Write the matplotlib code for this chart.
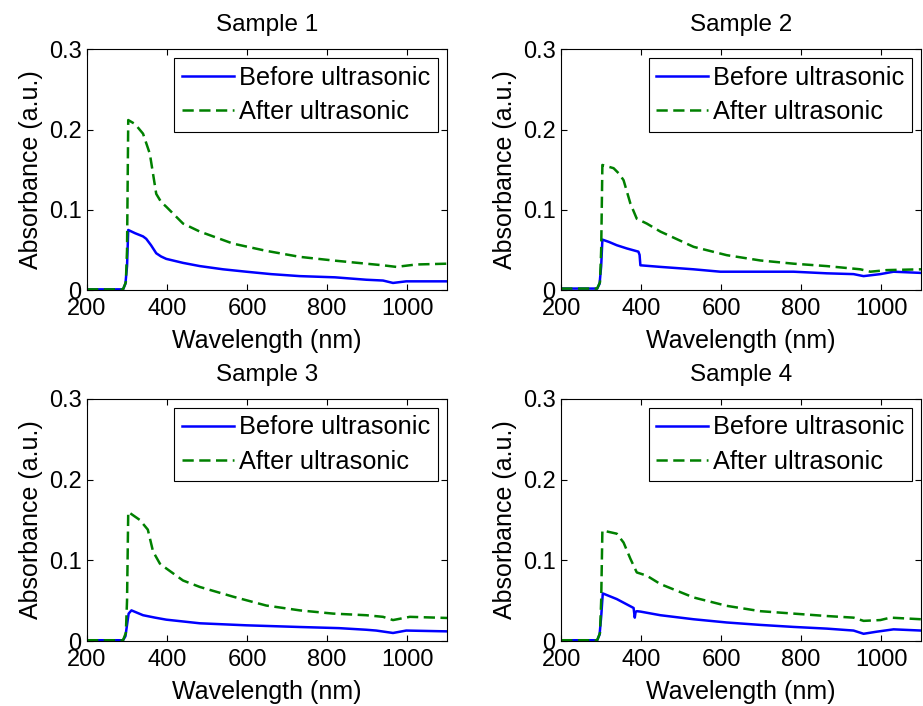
import matplotlib
matplotlib.use('Agg')
import matplotlib.pyplot as plt

plt.rcParams['font.family'] = ['Liberation Sans', 'DejaVu Sans']
plt.rcParams['font.size'] = 17

# Wavelength (nm) / absorbance pairs, per sample
wl_before_1 = [200, 290, 296, 300, 303, 320, 340, 348, 360, 373, 385, 398, 440, 482, 540, 598, 660, 732, 820, 898, 940, 965, 998, 1100]
ab_before_1 = [0.001, 0.001, 0.008, 0.03, 0.075, 0.071, 0.067, 0.064, 0.056, 0.046, 0.042, 0.039, 0.034, 0.030, 0.026, 0.023, 0.020, 0.0175, 0.016, 0.013, 0.012, 0.009, 0.011, 0.011]
wl_after_1 = [200, 290, 297, 300, 303, 320, 340, 357, 365, 373, 385, 398, 440, 482, 565, 648, 732, 815, 898, 940, 973, 1023, 1100]
ab_after_1 = [0.001, 0.001, 0.01, 0.05, 0.212, 0.207, 0.195, 0.170, 0.145, 0.120, 0.110, 0.104, 0.083, 0.073, 0.058, 0.049, 0.0415, 0.037, 0.033, 0.031, 0.029, 0.032, 0.033]

wl_before_2 = [200, 290, 296, 300, 303, 320, 339, 364, 393, 396, 398, 448, 531, 598, 700, 781, 864, 931, 956, 998, 1031, 1100]
ab_before_2 = [0.002, 0.002, 0.008, 0.03, 0.063, 0.060, 0.056, 0.052, 0.048, 0.044, 0.031, 0.029, 0.026, 0.023, 0.023, 0.023, 0.021, 0.020, 0.0175, 0.020, 0.023, 0.0215]
wl_after_2 = [200, 290, 297, 300, 303, 331, 345, 356, 373, 389, 414, 448, 531, 614, 698, 781, 864, 948, 973, 1014, 1100]
ab_after_2 = [0.002, 0.002, 0.01, 0.05, 0.156, 0.152, 0.145, 0.137, 0.108, 0.089, 0.083, 0.073, 0.054, 0.0436, 0.037, 0.033, 0.030, 0.026, 0.023, 0.025, 0.026]

wl_before_3 = [200, 290, 296, 300, 304, 311, 340, 370, 398, 482, 598, 732, 830, 898, 923, 965, 998, 1100]
ab_before_3 = [0.001, 0.001, 0.006, 0.02, 0.034, 0.038, 0.032, 0.029, 0.0265, 0.022, 0.0195, 0.0174, 0.016, 0.014, 0.013, 0.010, 0.013, 0.012]
wl_after_3 = [200, 290, 297, 300, 303, 332, 352, 365, 382, 398, 440, 482, 565, 648, 732, 815, 898, 940, 965, 1007, 1100]
ab_after_3 = [0.001, 0.001, 0.01, 0.05, 0.160, 0.150, 0.138, 0.111, 0.096, 0.090, 0.075, 0.067, 0.055, 0.044, 0.038, 0.034, 0.032, 0.030, 0.026, 0.030, 0.0286]

wl_before_4 = [200, 290, 296, 300, 304, 339, 381, 384, 386, 389, 398, 448, 531, 614, 698, 781, 864, 931, 956, 989, 1031, 1100]
ab_before_4 = [0.001, 0.001, 0.008, 0.03, 0.059, 0.052, 0.041, 0.029, 0.036, 0.037, 0.0365, 0.032, 0.027, 0.023, 0.020, 0.0175, 0.0154, 0.013, 0.009, 0.0116, 0.0145, 0.013]
wl_after_4 = [200, 290, 297, 300, 303, 339, 356, 373, 389, 414, 448, 531, 614, 698, 781, 864, 931, 956, 998, 1023, 1100]
ab_after_4 = [0.001, 0.001, 0.01, 0.05, 0.137, 0.133, 0.122, 0.102, 0.085, 0.081, 0.0706, 0.054, 0.0436, 0.037, 0.034, 0.031, 0.029, 0.025, 0.026, 0.029, 0.027]

titles = ['Sample 1', 'Sample 2', 'Sample 3', 'Sample 4']
before = [(wl_before_1, ab_before_1), (wl_before_2, ab_before_2),
          (wl_before_3, ab_before_3), (wl_before_4, ab_before_4)]
after = [(wl_after_1, ab_after_1), (wl_after_2, ab_after_2),
         (wl_after_3, ab_after_3), (wl_after_4, ab_after_4)]
x_ticks = [200, 400, 600, 800, 1000]
y_ticks = [0, 0.1, 0.2, 0.3]
y_ticklabels = ['0', '0.1', '0.2', '0.3']


def main():
    fig = plt.figure(figsize=(9.23, 7.06), dpi=100)

    # axes rectangles in figure fractions (left, bottom, width, height)
    rects = [
        [0.0943, 0.589, 0.390, 0.341],
        [0.608, 0.589, 0.390, 0.341],
        [0.0943, 0.092, 0.390, 0.343],
        [0.608, 0.092, 0.390, 0.343],
    ]

    for i in range(4):
        ax = fig.add_axes(rects[i])
        plot_panel(ax, titles[i], before[i], after[i])

    fig.savefig('out.png', dpi=100)
    plt.close(fig)

    return


def plot_panel(ax, title, before_data, after_data):
    ax.plot(before_data[0], before_data[1], color='#0000ff', lw=1.8,
            label='Before ultrasonic')
    ax.plot(after_data[0], after_data[1], color='#008000', lw=1.8,
            linestyle=(0, (4.5, 2.2)), label='After ultrasonic')

    ax.set_xlim(200, 1100)
    ax.set_ylim(0, 0.3)
    ax.set_xticks(x_ticks)
    ax.set_yticks(y_ticks)
    ax.set_yticklabels(y_ticklabels)
    ax.tick_params(direction='in', top=True, right=True, length=4,
                   width=0.8, labelsize=17)
    ax.tick_params(axis='x', pad=6)
    ax.tick_params(axis='y', pad=4)
    for spine in ax.spines.values():
        spine.set_linewidth(0.8)

    ax.set_title(title, fontsize=17.5, pad=13)
    ax.set_xlabel('Wavelength (nm)', fontsize=18, labelpad=6)
    ax.set_ylabel('Absorbance (a.u.)', fontsize=18, labelpad=4)

    leg = ax.legend(loc='upper right', fontsize=18.3, fancybox=False,
                    framealpha=1, edgecolor='black', borderaxespad=0.35,
                    borderpad=0.3, handlelength=2.05, handletextpad=0.2,
                    labelspacing=0.4)
    leg.get_frame().set_linewidth(0.8)

    return


if __name__ == '__main__':
    main()
